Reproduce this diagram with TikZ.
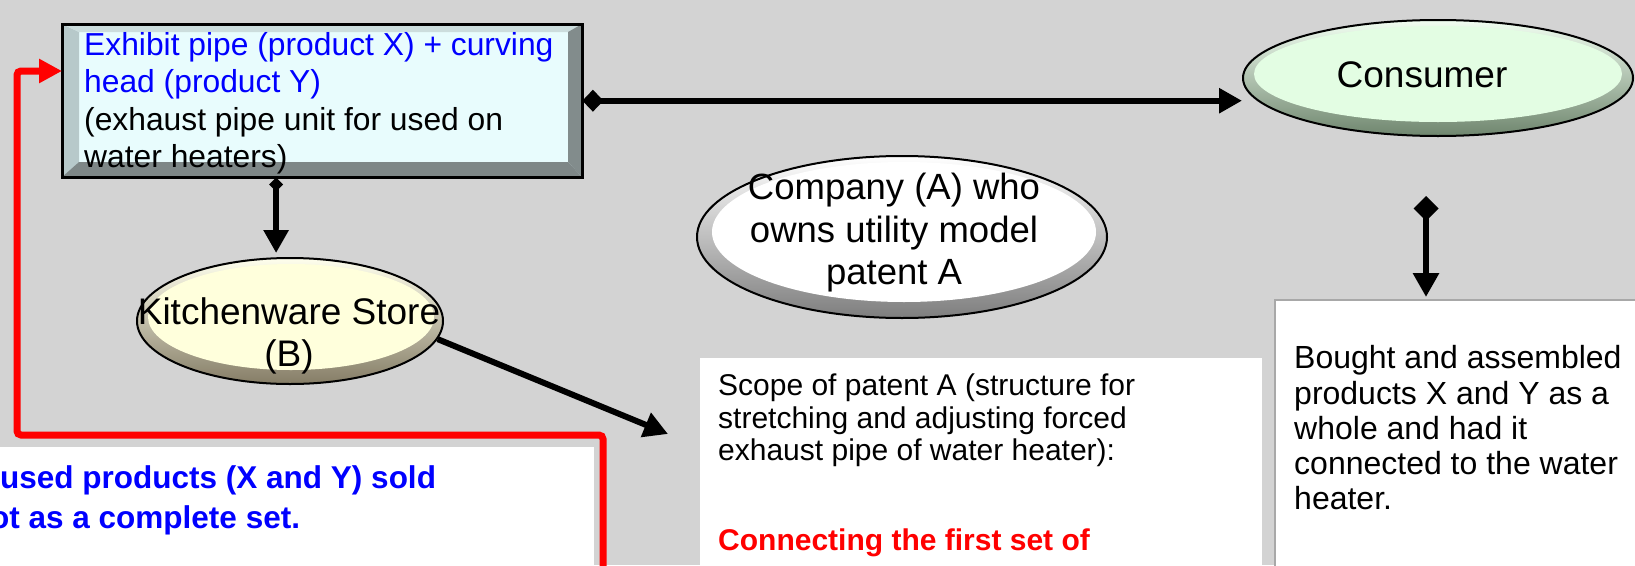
\documentclass[tikz,border=0pt]{standalone}
\usepackage{fontspec}
\setmainfont{Liberation Sans}
\usetikzlibrary{shapes.geometric,arrows.meta}
\definecolor{bggray}{HTML}{D3D3D3}
\definecolor{pipeface}{HTML}{E8FCFD}
\definecolor{bevL}{HTML}{B7C9CA}
\definecolor{bevT}{HTML}{CCDDDD}
\definecolor{bevR}{HTML}{828C8C}
\definecolor{bevB}{HTML}{7E8787}
\definecolor{consIn}{HTML}{E3FDE3}
\definecolor{consRim}{HTML}{6F866E}
\definecolor{compRim}{HTML}{7E7E7E}
\definecolor{kitIn}{HTML}{FFFFDC}
\definecolor{kitRim}{HTML}{857D66}
\definecolor{boxline}{HTML}{A8A8A8}
\newcommand\pipefont{\fontsize{31.8}{37.5}\selectfont}
\newcommand\scopefont{\fontsize{30}{32.5}\selectfont}
\newcommand\boughtfont{\fontsize{32}{35.2}\selectfont}
\newcommand\notefont{\fontsize{31.5}{38}\selectfont}
\newcommand\ovalfont{\fontsize{37}{42.5}\selectfont}
\tikzset{
  conn/.style={line width=6pt, draw=black},
  redline/.style={line width=7pt, draw=red, rounded corners=4pt},
  oval/.style={ellipse, draw=black, line width=2pt, inner sep=0pt},
  plainbox/.style={rectangle, fill=white, anchor=north west, inner sep=0pt},
  bodytext/.style={align=left, anchor=north west, inner sep=0pt},
  ovaltext/.style={font=\ovalfont, align=center, inner sep=0pt},
}
\begin{document}
\begin{tikzpicture}[x=1pt,y=-1pt]
\useasboundingbox (0,0) rectangle (1635,565);
\fill[bggray] (0,0) rectangle (1635,565);

% white boxes
\node[plainbox, minimum width=562pt, minimum height=260pt] (scope) at (700,358) {};
\node[plainbox, draw=boxline, line width=2pt, minimum width=400pt, minimum height=300pt] (bought) at (1274,299) {};
\node[plainbox, minimum width=620pt, minimum height=150pt] (setbox) at (-26,447) {};

% bevelled box
\node[rectangle, anchor=north west, minimum width=520pt, minimum height=153pt, inner sep=0pt] (pipe) at (62,24) {};
\fill[pipeface] (62,24) rectangle (582,177);
\fill[bevL] (62,24) -- (79,32) -- (79,162) -- (62,177) -- cycle;
\fill[bevT] (62,24) -- (582,24) -- (568,32) -- (79,32) -- cycle;
\fill[bevR] (582,24) -- (582,177) -- (568,162) -- (568,32) -- cycle;
\fill[bevB] (62,177) -- (582,177) -- (568,162) -- (79,162) -- cycle;
\draw[line width=3pt] (pipe.north west) rectangle (pipe.south east);
\node[bodytext, font=\pipefont] (pipetext) at (84,29) {\strut\textcolor{blue}{Exhibit pipe (product X) + curving}\\
  \textcolor{blue}{head (product Y)}\\
  (exhaust pipe unit for used on\\
  water heaters)};

% ellipses
\node[oval, minimum width=390pt, minimum height=116pt, top color=consIn!50!white, bottom color=consRim] (consumer) at (1438,78) {};
\fill[consIn] (1438,74) ellipse [x radius=184pt, y radius=48pt];
\node[ovaltext] (consumertext) at (1422,75) {Consumer};

\node[oval, minimum width=410pt, minimum height=162pt, top color=white, bottom color=compRim] (company) at (902,237) {};
\fill[white] (904,232) ellipse [x radius=192pt, y radius=70pt];
\node[ovaltext, font=\fontsize{36.5}{42.5}\selectfont] (companytext) at (894,233) {Company (A) who\\ owns utility model\\ patent A};

\node[oval, minimum width=306pt, minimum height=126pt, top color=kitIn!50!white, bottom color=kitRim] (kitchen) at (290,321) {};
\fill[kitIn] (291,317) ellipse [x radius=143pt, y radius=53pt];
\node[ovaltext] (kitchentext) at (289,336) {Kitchenware Store\\ (B)};

% connectors
\draw[conn, {Diamond[length=21pt,width=22pt]}-{Triangle[length=23pt,width=24pt]}] (pipe.east) -- (pipe.east -| consumer.west);
\draw[conn, {Diamond[length=14pt,width=14pt]}-{Triangle[length=23pt,width=24pt]}, shorten >=4pt] (pipe.-121) -- (pipe.-121 |- kitchen.north);
\coordinate (scopetip) at (668,434);
\draw[conn, -{Triangle[length=24pt,width=25pt]}] (kitchen.-7) -- (scopetip);
\coordinate (cbtop) at (1426,196);
\draw[conn, {Diamond[length=25pt,width=25pt]}-{Triangle[length=24pt,width=25pt]}, shorten >=2pt] (cbtop) -- (cbtop |- bought.north);

% red path
\coordinate (redstart) at (603,580);
\coordinate (redtop) at (17,71);
\draw[redline, -{Triangle[length=23pt,width=23pt]}] (redstart) -- (603,435) -- (17,435) -- (redtop) -- (redtop -| pipe.west);

% texts
\node[bodytext, font=\scopefont] (scopetext) at (718,373) {\strut Scope of patent A (structure for\\
  stretching and adjusting forced\\
  exhaust pipe of water heater):\\[57.5pt]
  \textcolor{red}{\bfseries Connecting the first set of}};
\node[bodytext, font=\boughtfont] (boughttext) at (1294,344) {\strut Bought and assembled\\
  products X and Y as a\\
  whole and had it\\
  connected to the water\\
  heater.};
\node[font=\notefont\bfseries, text=blue, anchor=base west, inner sep=0pt] (note1) at (0,488) {used products (X and Y) sold};
\node[font=\notefont\bfseries, text=blue, anchor=base west, inner sep=0pt] (note2) at (-10,528) {ot as a complete set.};
\end{tikzpicture}
\end{document}
